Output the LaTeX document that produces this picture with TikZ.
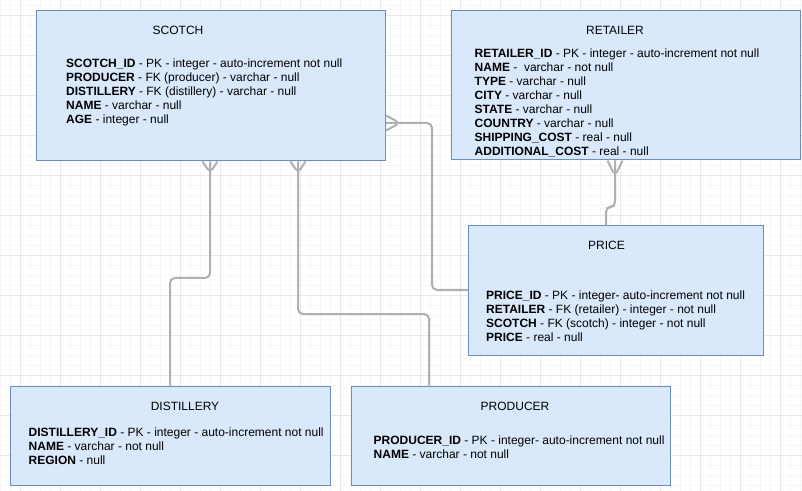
\documentclass[tikz,border=0pt]{standalone}
\usepackage{fontspec}
\setmainfont{Liberation Sans}
\usetikzlibrary{calc}
\definecolor{boxfill}{HTML}{DAE8FC}
\definecolor{boxline}{HTML}{6C8EBF}
\definecolor{linkgray}{HTML}{B0B0B0}
\definecolor{gridmajor}{HTML}{E8E8E8}
\definecolor{gridminor}{HTML}{F6F6F6}
\tikzset{
  entity/.style={draw=boxline, fill=boxfill, line width=1bp, anchor=north west, inner sep=0pt},
  tabletitle/.style={anchor=base, inner sep=0pt, font=\fontsize{12bp}{14bp}\selectfont},
  fields/.style={anchor=base west, inner sep=0pt, align=left, font=\fontsize{12bp}{14bp}\selectfont},
  link/.style={draw=linkgray, line width=2bp, rounded corners=5bp}
}
\begin{document}
\begin{tikzpicture}[x=1bp, y=-1bp]
  \useasboundingbox (0,0) rectangle (802,491);
  \fill[white] (0,0) rectangle (802,491);

  % background grid
  \foreach \gx in {0,10,...,800} {\draw[gridminor, line width=0.6bp] (\gx,0) -- (\gx,491);}
  \foreach \gy in {5,15,...,485} {\draw[gridminor, line width=0.6bp] (0,\gy) -- (802,\gy);}
  \foreach \gx in {20,60,...,780} {\draw[gridmajor, line width=0.8bp] (\gx,0) -- (\gx,491);}
  \foreach \gy in {15,55,...,455} {\draw[gridmajor, line width=0.8bp] (0,\gy) -- (802,\gy);}

  % tables
  \node[entity, minimum width=349bp, minimum height=150bp] (scotch) at (36,10.5) {};
  \node[entity, minimum width=349bp, minimum height=149bp] (retailer) at (451,10.5) {};
  \node[entity, minimum width=295bp, minimum height=129bp] (price) at (468,225.5) {};
  \node[entity, minimum width=320bp, minimum height=99bp] (distillery) at (10,385.5) {};
  \node[entity, minimum width=319bp, minimum height=99bp] (producer) at (351,385.5) {};

  % titles
  \node[tabletitle] (scotchtitle) at (178,35) {SCOTCH};
  \node[tabletitle] (retailertitle) at (615,35) {RETAILER};
  \node[tabletitle] (pricetitle) at (606.5,250) {PRICE};
  \node[tabletitle] (distillerytitle) at (185,410) {DISTILLERY};
  \node[tabletitle] (producertitle) at (515,410) {PRODUCER};

  % fields (anchored on the baseline of the last line)
  \node[fields] (scotchfields) at (66,123.5) {%
    \textbf{SCOTCH\_ID} - PK - integer - auto-increment not null\\
    \textbf{PRODUCER} - FK (producer) - varchar - null\\
    \textbf{DISTILLERY} - FK (distillery) - varchar - null\\
    \textbf{NAME} - varchar - null\\
    \textbf{AGE} - integer - null};
  \node[fields] (retailerfields) at (474.5,155.5) {%
    \textbf{RETAILER\_ID} - PK - integer - auto-increment not null\\
    \textbf{NAME} -~ varchar - not null\\
    \textbf{TYPE} - varchar - null\\
    \textbf{CITY} - varchar - null\\
    \textbf{STATE} - varchar - null\\
    \textbf{COUNTRY} - varchar - null\\
    \textbf{SHIPPING\_COST} - real - null\\
    \textbf{ADDITIONAL\_COST} - real - null};
  \node[fields] (pricefields) at (486,341.3) {%
    \textbf{PRICE\_ID} - PK - integer- auto-increment not null\\
    \textbf{RETAILER} - FK (retailer) - integer - not null\\
    \textbf{SCOTCH} - FK (scotch) - integer - not null\\
    \textbf{PRICE} - real - null};
  \node[fields] (distilleryfields) at (28.5,464.7) {%
    \textbf{DISTILLERY\_ID} - PK - integer - auto-increment not null\\
    \textbf{NAME} - varchar - not null\\
    \textbf{REGION} - null};
  \node[fields] (producerfields) at (373.5,458) {%
    \textbf{PRODUCER\_ID} - PK - integer- auto-increment not null\\
    \textbf{NAME} - varchar - not null};

  % distillery -> scotch
  \draw[link] (distillery.north -| 170,0) |- (210,278) -- (scotch.south -| 210,0);
  \draw[link] (scotch.south -| 202.5,0) -- (210,173) -- (scotch.south -| 217.5,0);

  % producer -> scotch
  \draw[link] (producer.north -| 429,0) |- (298,314) -- (scotch.south -| 298,0);
  \draw[link] (scotch.south -| 290.5,0) -- (298,173) -- (scotch.south -| 305.5,0);

  % price -> scotch
  \draw[link] (price.west |- 0,290) -| (432,123) -- (scotch.east |- 0,123);
  \draw[link] (scotch.east |- 0,115.5) -- (400,123) -- (scotch.east |- 0,130.5);

  % price -> retailer
  \draw[link] (price.north -| 606,0) |- (615,207) -- (retailer.south -| 615,0);
  \draw[link] (retailer.south -| 607.5,0) -- (615,176) -- (retailer.south -| 622.5,0);
\end{tikzpicture}
\end{document}
